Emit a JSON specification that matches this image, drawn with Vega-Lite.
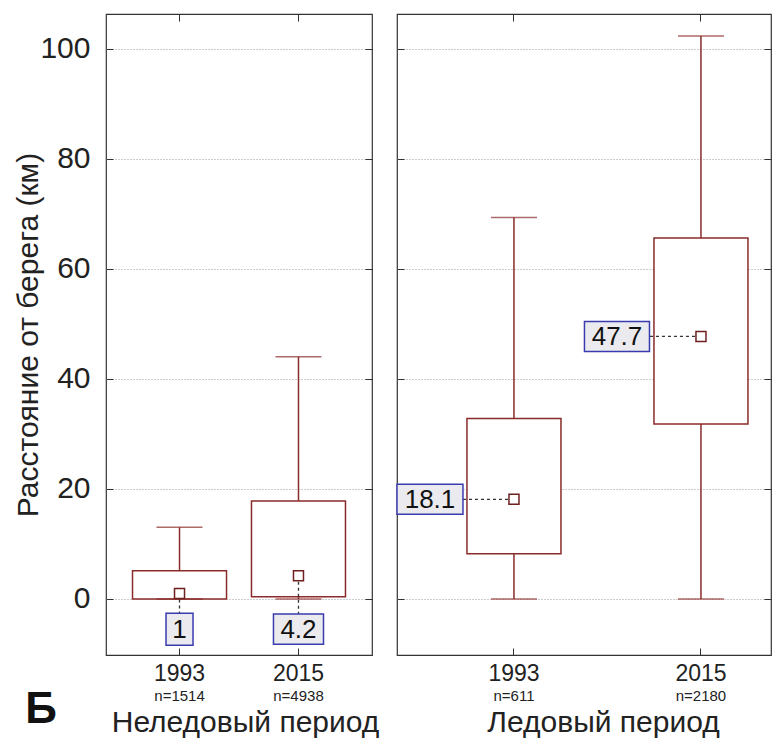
{
  "$schema": "https://vega.github.io/schema/vega-lite/v6.json",
  "background": "white",
  "padding": {"left": 13, "top": 12, "right": 5, "bottom": 0},
  "config": {
    "font": "Liberation Sans",
    "view": {"stroke": "#333", "strokeWidth": 1.2},
    "axis": {"domain": false, "tickColor": "#333", "labelColor": "#222", "titleColor": "#222", "titleFontWeight": "normal"}
  },
  "title": {"text": "Б", "orient": "bottom", "anchor": "start", "fontSize": 44, "fontWeight": "bold", "color": "#111", "frame": "bounds", "offset": -50, "dx": 12},
  "spacing": 25,
  "bounds": "flush",
  "datasets": {
    "left": [
      {"year": "1993", "n": "n=1514", "lo": 0, "q1": 0, "med": 1, "q3": 5.1, "hi": 13, "label": "1"},
      {"year": "2015", "n": "n=4938", "lo": 0, "q1": 0.4, "med": 4.2, "q3": 17.8, "hi": 44, "label": "4.2"}
    ],
    "right": [
      {"year": "1993", "n": "n=611", "lo": 0, "q1": 8.2, "med": 18.1, "q3": 32.8, "hi": 69.3, "label": "18.1"},
      {"year": "2015", "n": "n=2180", "lo": 0, "q1": 31.8, "med": 47.7, "q3": 65.6, "hi": 102.3, "label": "47.7"}
    ]
  },
  "hconcat": [
    {
      "width": 266,
      "height": 641,
      "data": {"name": "left"},
      "resolve": {"axis": {"x": "independent", "y": "independent"}},
      "layer": [
        {
          "mark": {"type": "rule", "color": "#8b2a2a", "strokeWidth": 1.5},
          "encoding": {
            "x": {"field": "year", "type": "nominal", "scale": {"type": "band", "paddingInner": 0, "paddingOuter": 0.118, "align": 0.5},
                  "axis": {"orient": "bottom", "labelAngle": 0, "labelFontSize": 23, "tickSize": -7, "labelPadding": 14, "grid": false,
                           "title": "Неледовый период", "titleFontSize": 30, "titlePadding": 22, "titleX": 139}},
            "y": {"field": "lo", "type": "quantitative", "scale": {"domain": [-10.2, 106.3], "nice": false, "zero": false},
                  "axis": {"orient": "left", "values": [0, 20, 40, 60, 80, 100], "labelFontSize": 30, "tickSize": -7, "labelPadding": 23,
                           "grid": true, "gridDash": [1, 2], "gridColor": "#999", "gridWidth": 1.2,
                           "title": "Расстояние от берега (км)", "titleFontSize": 30, "titlePadding": -4}},
            "y2": {"field": "hi"}
          }
        },
        {
          "mark": {"type": "bar", "width": 94, "fill": "white", "stroke": "#8b2a2a", "strokeWidth": 1.5},
          "encoding": {
            "x": {"field": "year", "type": "nominal", "axis": {"orient": "top", "labels": false, "title": null, "tickSize": -7, "grid": false}},
            "y": {"field": "q1", "type": "quantitative", "axis": {"orient": "right", "labels": false, "title": null, "tickSize": -7, "values": [0, 20, 40, 60, 80, 100], "grid": false}},
            "y2": {"field": "q3"}
          }
        },
        {
          "mark": {"type": "tick", "orient": "horizontal", "size": 46, "thickness": 1.5, "color": "#8b2a2a"},
          "encoding": {
            "x": {"field": "year", "type": "nominal", "axis": null},
            "y": {"field": "hi", "type": "quantitative", "axis": null}
          }
        },
        {
          "mark": {"type": "tick", "orient": "horizontal", "size": 46, "thickness": 1.5, "color": "#8b2a2a"},
          "encoding": {
            "x": {"field": "year", "type": "nominal", "axis": null},
            "y": {"field": "lo", "type": "quantitative", "axis": null}
          }
        },
        {
          "mark": {"type": "rule", "color": "#333", "strokeDash": [3, 3], "strokeWidth": 1.3},
          "encoding": {
            "x": {"field": "year", "type": "nominal", "axis": null},
            "y": {"field": "med", "type": "quantitative", "axis": null},
            "y2": {"datum": -5.5}
          }
        },
        {
          "mark": {"type": "point", "shape": "square", "size": 100, "filled": true, "fill": "white", "stroke": "#6e1f1f", "strokeWidth": 1.5, "opacity": 1},
          "encoding": {
            "x": {"field": "year", "type": "nominal", "axis": null},
            "y": {"field": "med", "type": "quantitative", "axis": null}
          }
        },
        {
          "mark": {"type": "point", "size": 4356, "filled": true, "fill": "#ebebef", "stroke": "#3b3bb0", "strokeWidth": 1.5, "opacity": 1},
          "encoding": {
            "x": {"field": "year", "type": "nominal", "axis": null},
            "y": {"datum": -5.5, "type": "quantitative", "axis": null},
            "shape": {"field": "label", "type": "nominal", "legend": null,
                      "scale": {"domain": ["1", "4.2", "18.1", "47.7"], "range": ["M-0.409,-0.485H0.409V0.485H-0.409Z", "M-0.758,-0.455H0.758V0.455H-0.758Z", "M-1,-0.455H1V0.455H-1Z", "M-0.985,-0.455H0.985V0.455H-0.985Z"]}}
          }
        },
        {
          "mark": {"type": "text", "fontSize": 26, "color": "#111", "baseline": "middle", "dy": 1},
          "encoding": {
            "x": {"field": "year", "type": "nominal", "axis": null},
            "y": {"datum": -5.5, "type": "quantitative", "axis": null},
            "text": {"field": "label"}
          }
        },
        {
          "mark": {"type": "text", "fontSize": 15, "color": "#222", "baseline": "middle", "dy": 41},
          "encoding": {
            "x": {"field": "year", "type": "nominal", "axis": null},
            "y": {"datum": -10.2, "type": "quantitative", "axis": null},
            "text": {"field": "n"}
          }
        }
      ]
    },
    {
      "width": 374,
      "height": 641,
      "data": {"name": "right"},
      "resolve": {"axis": {"x": "independent", "y": "independent"}},
      "layer": [
        {
          "mark": {"type": "rule", "color": "#8b2a2a", "strokeWidth": 1.5},
          "encoding": {
            "x": {"field": "year", "type": "nominal", "scale": {"type": "band", "paddingInner": 0.251, "paddingOuter": 0.1255, "align": 1},
                  "axis": {"orient": "bottom", "labelAngle": 0, "labelFontSize": 23, "tickSize": -7, "labelPadding": 14, "grid": false,
                           "title": "Ледовый период", "titleFontSize": 30, "titlePadding": 22, "titleX": 206}},
            "y": {"field": "lo", "type": "quantitative", "scale": {"domain": [-10.2, 106.3], "nice": false, "zero": false},
                  "axis": {"orient": "left", "values": [0, 20, 40, 60, 80, 100], "labels": false, "tickSize": -7, "title": null,
                           "grid": true, "gridDash": [1, 2], "gridColor": "#999", "gridWidth": 1.2}},
            "y2": {"field": "hi"}
          }
        },
        {
          "mark": {"type": "bar", "width": 94, "fill": "white", "stroke": "#8b2a2a", "strokeWidth": 1.5},
          "encoding": {
            "x": {"field": "year", "type": "nominal", "axis": {"orient": "top", "labels": false, "title": null, "tickSize": -7, "grid": false}},
            "y": {"field": "q1", "type": "quantitative", "axis": {"orient": "right", "labels": false, "title": null, "tickSize": -7, "values": [0, 20, 40, 60, 80, 100], "grid": false}},
            "y2": {"field": "q3"}
          }
        },
        {
          "mark": {"type": "tick", "orient": "horizontal", "size": 46, "thickness": 1.5, "color": "#8b2a2a"},
          "encoding": {
            "x": {"field": "year", "type": "nominal", "axis": null},
            "y": {"field": "hi", "type": "quantitative", "axis": null}
          }
        },
        {
          "mark": {"type": "tick", "orient": "horizontal", "size": 46, "thickness": 1.5, "color": "#8b2a2a"},
          "encoding": {
            "x": {"field": "year", "type": "nominal", "axis": null},
            "y": {"field": "lo", "type": "quantitative", "axis": null}
          }
        },
        {
          "mark": {"type": "rule", "color": "#333", "strokeDash": [3, 3], "strokeWidth": 1.3, "x2Offset": -84},
          "encoding": {
            "x": {"field": "year", "type": "nominal", "axis": null},
            "x2": {"field": "year"},
            "y": {"field": "med", "type": "quantitative", "axis": null}
          }
        },
        {
          "mark": {"type": "point", "shape": "square", "size": 100, "filled": true, "fill": "white", "stroke": "#6e1f1f", "strokeWidth": 1.5, "opacity": 1},
          "encoding": {
            "x": {"field": "year", "type": "nominal", "axis": null},
            "y": {"field": "med", "type": "quantitative", "axis": null}
          }
        },
        {
          "mark": {"type": "point", "size": 4356, "filled": true, "fill": "#ebebef", "stroke": "#3b3bb0", "strokeWidth": 1.5, "opacity": 1, "xOffset": -84},
          "encoding": {
            "x": {"field": "year", "type": "nominal", "axis": null},
            "y": {"field": "med", "type": "quantitative", "axis": null},
            "shape": {"field": "label", "type": "nominal", "legend": null,
                      "scale": {"domain": ["1", "4.2", "18.1", "47.7"], "range": ["M-0.409,-0.485H0.409V0.485H-0.409Z", "M-0.758,-0.455H0.758V0.455H-0.758Z", "M-1,-0.455H1V0.455H-1Z", "M-0.985,-0.455H0.985V0.455H-0.985Z"]}}
          }
        },
        {
          "mark": {"type": "text", "fontSize": 26, "color": "#111", "baseline": "middle", "dy": 1, "dx": -84},
          "encoding": {
            "x": {"field": "year", "type": "nominal", "axis": null},
            "y": {"field": "med", "type": "quantitative", "axis": null},
            "text": {"field": "label"}
          }
        },
        {
          "mark": {"type": "text", "fontSize": 15, "color": "#222", "baseline": "middle", "dy": 41},
          "encoding": {
            "x": {"field": "year", "type": "nominal", "axis": null},
            "y": {"datum": -10.2, "type": "quantitative", "axis": null},
            "text": {"field": "n"}
          }
        }
      ]
    }
  ]
}
